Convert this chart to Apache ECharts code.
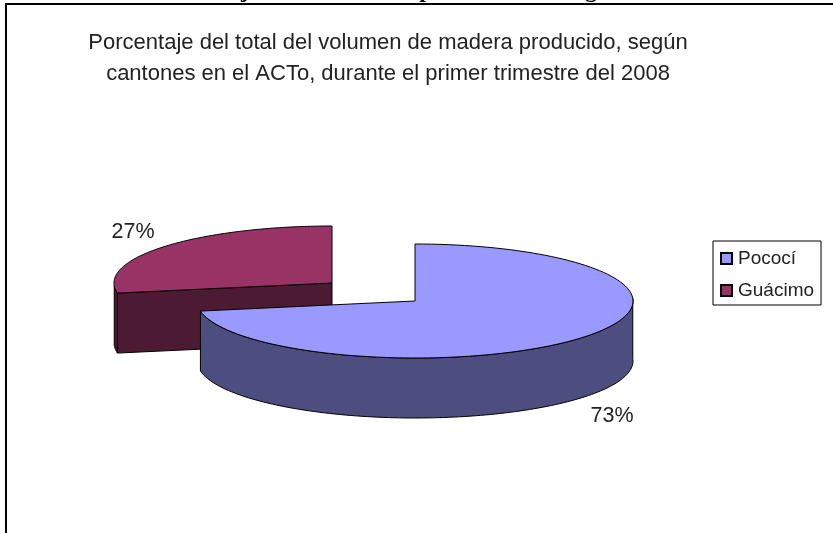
<!DOCTYPE html>
<html><head><meta charset="utf-8">
<style>html,body{margin:0;padding:0;background:#fff}#c{width:833px;height:533px}</style>
<script src="https://cdn.jsdelivr.net/npm/echarts@6/dist/echarts.min.js"></script>
</head><body><div id="c"></div>
<script>
const categories = ['Pococí', 'Guácimo'];
const shares = [73, 27];
const titleLines = ['Porcentaje del total del volumen de madera producido, según', 'cantones en el ACTo, durante el primer trimestre del 2008'];
const croppedGlyphs = ['j', 'p', 'g'];

const chart = echarts.init(document.getElementById('c'), null, {renderer: 'canvas'});
const total = shares.reduce((a, b) => a + b, 0);
const RX = 218, RY = 57, DEPTH = 60, PERSPECTIVE = 5.3;
const colours = [{top: '#9999ff', side: '#4d4d80'}, {top: '#993366', side: '#4d1a33'}];
const centres = [[415, 301], [332, 283]];
const labelPos = [[612, 416], [133, 232]];
const glyphX = [245, 426, 591];

function pt(c, deg, dy) {
  const s = Math.sin(deg * Math.PI / 360);
  const r = (deg - PERSPECTIVE * s * s) * Math.PI / 180;
  return [c[0] + RX * Math.sin(r), c[1] - RY * Math.cos(r) + (dy || 0)];
}
function arc(c, a0, a1, dy) {
  const out = [], n = 120;
  for (let i = 0; i <= n; i++) out.push(pt(c, a0 + (a1 - a0) * i / n, dy));
  return out;
}
function sliceRender(idx) {
  const start = shares.slice(0, idx).reduce((a, b) => a + b, 0) / total * 360;
  const end = start + shares[idx] / total * 360;
  const c = centres[idx], col = colours[idx];
  const line = {stroke: '#000', lineWidth: 1, lineJoin: 'round'};
  return function () {
    const kids = [];
    const poly = (points, fill) => kids.push({type: 'polygon', shape: {points}, style: Object.assign({fill}, line)});
    const w0 = Math.max(start, 90), w1 = Math.min(end, 270);
    if (w1 > w0) poly(arc(c, w0, w1).concat(arc(c, w1, w0, DEPTH)), col.side);
    if (idx === 1) poly([c, pt(c, start), pt(c, start, DEPTH), [c[0], c[1] + DEPTH]], col.side);
    poly([c].concat(arc(c, start, end)), col.top);
    kids.push({type: 'text', x: labelPos[idx][0], y: labelPos[idx][1],
      style: {text: shares[idx] + '%', fill: '#222', font: '21.5px "Liberation Sans"', align: 'center', verticalAlign: 'middle'}});
    return {type: 'group', children: kids};
  };
}
chart.setOption({
  animation: false,
  backgroundColor: '#fff',
  title: {
    text: titleLines.join('\n'), left: 383, top: 22, textAlign: 'center',
    textStyle: {fontFamily: 'Liberation Sans', fontSize: 22, fontWeight: 'normal', color: '#222', lineHeight: 31}
  },
  legend: {
    data: categories, orient: 'vertical', left: 713, top: 241,
    icon: 'rect', padding: [8, 7, 5, 7], itemGap: 13, itemWidth: 11, itemHeight: 11,
    backgroundColor: '#fff', borderColor: '#000', borderWidth: 1, borderRadius: 0,
    selectedMode: false,
    textStyle: {fontFamily: 'Liberation Sans', fontSize: 19, color: '#222', padding: [0, 0, 0, 1]}
  },
  graphic: [
    {type: 'polyline', shape: {points: [[6, 533], [6, 4], [833, 4]]}, style: {stroke: '#000', lineWidth: 2, fill: null}},
  ].concat(croppedGlyphs.map((g, i) => ({type: 'text', x: glyphX[i], y: 3,
    style: {text: g, fill: '#000', font: 'bold 24px "Liberation Serif"', align: 'center', verticalAlign: 'bottom'}}))),
  series: [1, 0].map(i => ({
    type: 'custom', name: categories[i], coordinateSystem: 'none',
    data: [shares[i]], renderItem: sliceRender(i),
    itemStyle: {color: colours[i].top, borderColor: '#000', borderWidth: 1}
  }))
});
</script></body></html>
